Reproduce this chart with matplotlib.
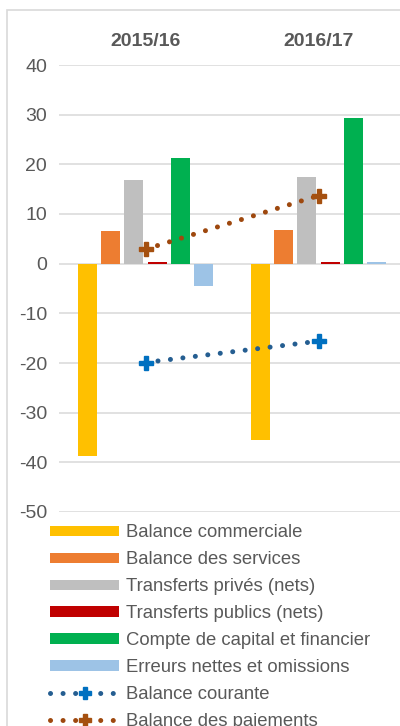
import numpy as np
from matplotlib import pyplot as plt
from matplotlib.patches import Rectangle

plt.rcParams['font.family'] = ['Liberation Sans', 'DejaVu Sans']
plt.rcParams['axes.unicode_minus'] = False

annees = ['2015/16', '2016/17']
series = ['Balance commerciale', 'Balance des services', 'Transferts privés (nets)',
          'Transferts publics (nets)', 'Compte de capital et financier',
          'Erreurs nettes et omissions']
couleurs = ['#FFC000', '#ED7D31', '#BFBFBF', '#C00000', '#00B050', '#9DC3E6']
balance_commerciale = [-38.8, -35.6]
balance_services = [6.5, 6.7]
transferts_prives = [16.8, 17.4]
transferts_publics = [0.3, 0.3]
compte_capital = [21.3, 29.3]
erreurs_omissions = [-4.4, 0.3]
balance_courante = [-19.9, -15.6]
balance_paiements = [2.9, 13.7]

valeurs = [balance_commerciale, balance_services, transferts_prives,
           transferts_publics, compte_capital, erreurs_omissions]

W, H = 400, 726
fig = plt.figure(figsize=(W/100, H/100), dpi=100)
# cadre du graphique (coupé à droite et en bas)
fig.patches.append(Rectangle((7/W, -0.1), 1.2, 1.1 - 10/H, transform=fig.transFigure,
                             fill=False, edgecolor='#D9D9D9', linewidth=1.2))
ax = fig.add_axes([59/W, (H-512)/H, 346/W, (512-65)/H])

x = np.arange(len(annees))
pas = 0.134
larg = 0.11
for i, (nom, v) in enumerate(zip(series, valeurs)):
    ax.bar(x + (i - 2.5)*pas, v, width=larg, color=couleurs[i], label=nom, zorder=2)

dots = (0, (0.01, 2.5))
ax.plot(x, balance_courante, color='#255E91', linestyle=dots, linewidth=3.6,
        dash_capstyle='round', marker='P', markersize=10, markerfacecolor='#0070C0',
        markeredgecolor='#0070C0', label='Balance courante', zorder=3)
ax.plot(x, balance_paiements, color='#9E480E', linestyle=dots, linewidth=3.6,
        dash_capstyle='round', marker='P', markersize=10, markerfacecolor='#A5500F',
        markeredgecolor='#A5500F', label='Balance des paiements', zorder=3)

ax.set_xlim(-0.5, 1.5)
ax.set_ylim(-50, 40)
ax.set_yticks(range(-50, 41, 10))
ax.yaxis.grid(True, color='#D9D9D9', linewidth=1.1, zorder=0)
ax.set_axisbelow(True)
for s in ax.spines.values():
    s.set_visible(False)
ax.xaxis.tick_top()
ax.set_xticks(x)
ax.set_xticklabels(annees, fontweight='bold')
ax.tick_params(axis='x', length=0, pad=10.5, labelsize=14, labelcolor='#595959')
ax.tick_params(axis='y', length=0, pad=8.5, labelsize=14, labelcolor='#595959')
ax.set_facecolor('none')

h, l = ax.get_legend_handles_labels()
ordre = list(range(2, 8)) + [0, 1]
fig.legend([h[k] for k in ordre], [l[k] for k in ordre], loc='upper left',
           bbox_to_anchor=(43/W, 1 - 517/H), frameon=False, fontsize=13.3,
           handlelength=3.7, handleheight=0.5, labelspacing=0.54, handletextpad=0.4,
           numpoints=1, markerscale=0.85, labelcolor='#595959', borderaxespad=0)

fig.savefig('out.png', dpi=100)
